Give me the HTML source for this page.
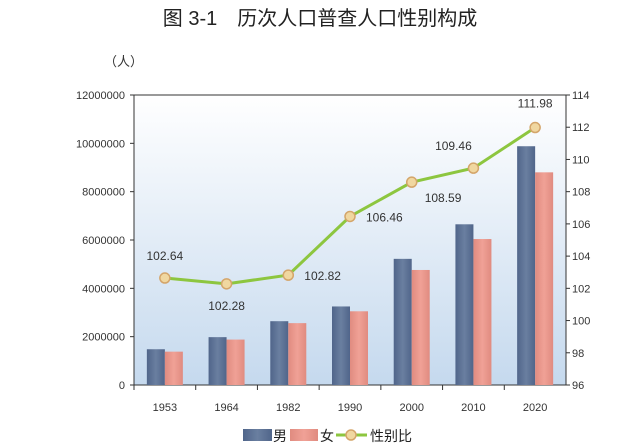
<!DOCTYPE html>
<html><head><meta charset="utf-8"><style>
body{margin:0;background:#fff;}
svg{display:block;font-family:"Liberation Sans","Noto Sans CJK SC",sans-serif;}
</style></head><body>
<svg width="640" height="445" viewBox="0 0 640 445">
<defs>
<linearGradient id="bg" x1="0" y1="0" x2="0" y2="1"><stop offset="0" stop-color="#ffffff"/><stop offset="1" stop-color="#c5d9ee"/></linearGradient>
<linearGradient id="gm" x1="0" y1="0" x2="1" y2="0"><stop offset="0" stop-color="#50658a"/><stop offset="0.5" stop-color="#6a7fa0"/><stop offset="1" stop-color="#50658a"/></linearGradient>
<linearGradient id="gf" x1="0" y1="0" x2="1" y2="0"><stop offset="0" stop-color="#e08b80"/><stop offset="0.5" stop-color="#f0a196"/><stop offset="1" stop-color="#e08b80"/></linearGradient>
</defs>
<text x="320" y="25" font-size="20" text-anchor="middle" fill="#222">图 3-1　历次人口普查人口性别构成</text>
<text x="104" y="66" font-size="13" fill="#333">（人）</text>
<rect x="134" y="95" width="432" height="290" fill="url(#bg)" stroke="#333" stroke-width="1"/>
<g id="axes"></g>
<g id="bars"></g>
<g id="line"></g>
<g>
<rect x="243" y="429" width="29" height="12" fill="url(#gm)"/>
<text x="273" y="441" font-size="14" fill="#222">男</text>
<rect x="290" y="429" width="28" height="12" fill="url(#gf)"/>
<text x="320" y="441" font-size="14" fill="#222">女</text>
<line x1="336" y1="435" x2="367" y2="435" stroke="#8dc63f" stroke-width="3"/>
<circle cx="351" cy="435" r="5" fill="#f0d7a0" stroke="#d4a56a" stroke-width="1.5"/>
<text x="370" y="441" font-size="14" fill="#222">性别比</text>
</g>
</svg>
<script>
const categories=["1953","1964","1982","1990","2000","2010","2020"];
const male=[1480000,1980000,2640000,3250000,5220000,6650000,9880000];
const female=[1380000,1880000,2560000,3050000,4760000,6040000,8800000];
const ratio=[102.64,102.28,102.82,106.46,108.59,109.46,111.98];
const leftTicks=[0,2000000,4000000,6000000,8000000,10000000,12000000];
const rightTicks=[96,98,100,102,104,106,108,110,112,114];
const NS="http://www.w3.org/2000/svg";
const L=134,R=566,T=95,B=385;
const bw=(R-L)/categories.length;
const xC=i=>L+bw*(i+0.5);
const yL=v=>B-(v/12000000)*(B-T);
const yR=v=>B-((v-96)/18)*(B-T);
function mk(tag,attrs,parent,txt){const e=document.createElementNS(NS,tag);for(const k in attrs)e.setAttribute(k,attrs[k]);if(txt!==undefined)e.textContent=txt;document.getElementById(parent).appendChild(e);return e;}
leftTicks.forEach(t=>{
 const e=mk("text",{x:125,y:yL(t)+4,"font-size":11,"text-anchor":"end",fill:"#333"},"axes",t);
 
 
 const l=mk("line",{x1:130,x2:134,y1:yL(t),y2:yL(t),stroke:"#333"},"axes");
 
 
});
rightTicks.forEach(t=>{
 const e=mk("text",{x:572,y:yR(t)+4,"font-size":11,fill:"#333"},"axes",t);
 
 
 const l=mk("line",{x1:566,x2:570,y1:yR(t),y2:yR(t),stroke:"#333"},"axes");
 
 
});
categories.forEach((c,i)=>{
 const e=mk("text",{x:xC(i),y:411,"font-size":11,"text-anchor":"middle",fill:"#333"},"axes",c);
 
 
 const l=mk("line",{x1:L+bw*i,x2:L+bw*i,y1:385,y2:390,stroke:"#333"},"axes");
 
 
 const m=mk("rect",{x:xC(i)-18,y:yL(male[i]),width:18,height:B-yL(male[i]),fill:"url(#gm)"},"bars");
 
 
 const f=mk("rect",{x:xC(i),y:yL(female[i]),width:18,height:B-yL(female[i]),fill:"url(#gf)"},"bars");
 
 
});
const pl=mk("polyline",{points:ratio.map((v,i)=>xC(i)+","+yR(v)).join(" "),fill:"none",stroke:"#8dc63f","stroke-width":3},"line");


const off=[[0,-18,"middle"],[0,26,"middle"],[16,5,"start"],[16,5,"start"],[13,20,"start"],[-20,-18,"middle"],[0,-20,"middle"]];
ratio.forEach((v,i)=>{
 const c=mk("circle",{cx:xC(i),cy:yR(v),r:5,fill:"#f0d7a0",stroke:"#d4a56a","stroke-width":1.5},"line");
 
 
 const t=mk("text",{x:xC(i)+off[i][0],y:yR(v)+off[i][1],"font-size":12,"text-anchor":off[i][2],fill:"#333"},"line",v.toFixed(2));
 
 
});
</script>
</body></html>
